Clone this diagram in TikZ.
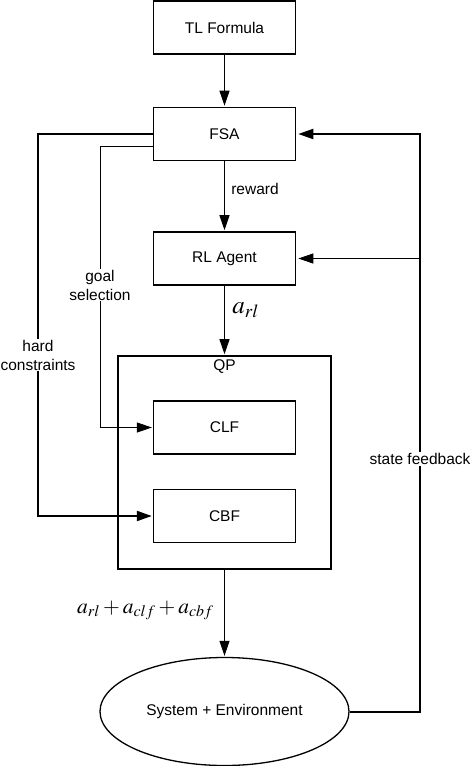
\documentclass[tikz,border=0pt]{standalone}
\usepackage{amsmath}
\usepackage{mathptmx}
\usepackage{fontspec}
\setmainfont{Liberation Sans}
\usepackage{tikz}
\usetikzlibrary{shapes.geometric, arrows.meta, calc}

\tikzset{
    block/.style={draw, line width=1.6pt, minimum width=142pt, minimum height=53pt, font=\fontsize{15.5}{18}\selectfont},
    inner block/.style={block, line width=1.3pt},
    flow/.style={->, line width=1pt},
    bold flow/.style={->, line width=2pt},
    tag/.style={fill=white, align=center, inner sep=1pt, font=\fontsize{15.5}{19}\selectfont},
}

\begin{document}
\begin{tikzpicture}[x=1pt, y=-1pt, >={Triangle[length=15pt,width=10pt]}]
        \useasboundingbox (0,0) rectangle (472,766);

        % Blocchi principali
        \node[block] (tl) at (224.5,27.5) {TL Formula};
        \node[block] (fsa) at (224.5,134) {FSA};
        \node[block] (rl) at (224.5,258.5) {RL Agent};

        % QP con CLF e CBF dentro
        \node[draw, line width=1.6pt, minimum width=213pt, minimum height=213pt] (qp) at (224.5,462.5) {};
        \node[font=\fontsize{15.5}{18}\selectfont, below=1pt] at (qp.north) {QP};
        \node[inner block] (clf) at (224.5,427.5) {CLF};
        \node[inner block] (cbf) at (224.5,516) {CBF};

        % Sistema
        \node[draw, ellipse, line width=1.3pt, minimum width=249pt, minimum height=108pt,
              font=\fontsize{15.5}{18}\selectfont] (env) at (224.5,711.5) {System + Environment};

        % Frecce verticali
        \draw[flow, shorten >=1pt] (tl) -- (fsa);
        \draw[flow, shorten >=1pt] (fsa) -- node[right, xshift=3pt, yshift=7.5pt, font=\fontsize{15.5}{18}\selectfont] {reward} (rl);
        \draw[flow, shorten >=1pt] (rl) -- node[right, xshift=4pt, yshift=10pt, font=\fontsize{25}{28}\selectfont] {$a_{rl}$} (qp);
        \draw[flow, shorten >=1pt] (qp) -- node[left, xshift=-7pt, yshift=3pt, font=\fontsize{21.5}{24}\selectfont] {$a_{rl}+a_{clf}+a_{cbf}$} (env);

        % Vincoli e obiettivi dal FSA
        \coordinate (hc) at (38,134);
        \coordinate (gs) at (100,146);
        \draw[bold flow, shorten >=1pt] (fsa.west) -- (hc) |- (cbf.west);
        \draw[flow, shorten >=1pt] ([yshift=-12pt]fsa.west) -- (gs) |- (clf.west);
        \node[tag] (hardlbl) at (38,355) {hard\\constraints};
        \node[tag] (goallbl) at (100,285) {goal\\selection};

        % Retroazione di stato
        \coordinate (sf) at (420,134);
        \coordinate (sfrl) at (rl.east -| sf);
        \draw[bold flow, shorten >=2pt] (env.east) -| (sf) -- (fsa.east);
        \draw[flow, shorten >=2pt] (sfrl) -- (rl.east);
        \node[tag] (fblbl) at (420,459) {state feedback};

    \end{tikzpicture}
\end{document}
